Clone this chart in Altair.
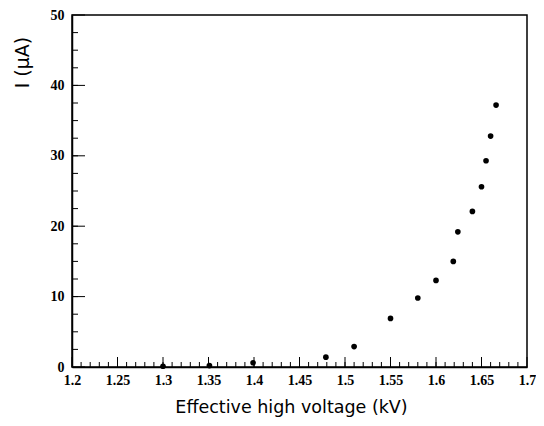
import altair as alt
import pandas as pd

voltage = [1.300, 1.351, 1.399, 1.479, 1.510, 1.550, 1.580, 1.600, 1.619, 1.624,
           1.640, 1.650, 1.655, 1.660, 1.666]
current = [0.1, 0.2, 0.6, 1.4, 2.9, 6.9, 9.8, 12.3, 15.0, 19.2,
           22.1, 25.6, 29.3, 32.8, 37.2]

x_major = [1.2, 1.25, 1.3, 1.35, 1.4, 1.45, 1.5, 1.55, 1.6, 1.65, 1.7]
x_minor = [round(1.2 + 0.01 * i, 2) for i in range(1, 50)]
y_major = [0, 10, 20, 30, 40, 50]
y_minor = [2.5 * i for i in range(1, 20)]

W, H = 455, 352
SERIF = "Liberation Serif"
SANS = "DejaVu Sans"

xs = alt.Scale(domain=[1.2, 1.7], nice=False, zero=False)
ys = alt.Scale(domain=[0, 50], nice=False)

df = pd.DataFrame({"V": voltage, "I": current})

points = alt.Chart(df).mark_circle(color="black", opacity=1, size=32).encode(
    x=alt.X("V:Q", scale=xs, axis=alt.Axis(
        values=x_major, format="~g", ticks=False, grid=False,
        labelFont=SERIF, labelFontWeight="bold", labelFontSize=14, labelColor="black",
        labelPadding=6, labelFlush=False, labelOverlap=False,
        domainColor="black", domainWidth=1.5,
        title="Effective high voltage (kV)", titleFont=SANS, titleFontWeight="normal",
        titleFontSize=17.5, titleColor="black", titleX=219, titleY=40,
        titleBaseline="middle", titleAlign="center")),
    y=alt.Y("I:Q", scale=ys, axis=alt.Axis(
        values=y_major, ticks=False, grid=False,
        labelFont=SERIF, labelFontWeight="bold", labelFontSize=14, labelColor="black",
        labelPadding=8, labelFlush=False, labelOverlap=False,
        domainColor="black", domainWidth=1.5,
        title="I (μA)", titleFont=SANS, titleFontWeight="normal",
        titleFontSize=19, titleColor="black", titleX=-50, titleY=47,
        titleAngle=270, titleBaseline="middle", titleAlign="center")),
)

xminor = alt.Chart(pd.DataFrame({"v": x_minor})).mark_rule(color="black", strokeWidth=1).encode(
    x=alt.X("v:Q", scale=xs), y=alt.value(H), y2=alt.value(H - 5))
xmajor = alt.Chart(pd.DataFrame({"v": x_major})).mark_rule(color="black", strokeWidth=1).encode(
    x=alt.X("v:Q", scale=xs), y=alt.value(H), y2=alt.value(H - 10))
yminor = alt.Chart(pd.DataFrame({"v": y_minor})).mark_rule(color="black", strokeWidth=1).encode(
    y=alt.Y("v:Q", scale=ys), x=alt.value(0), x2=alt.value(6))
ymajor = alt.Chart(pd.DataFrame({"v": y_major})).mark_rule(color="black", strokeWidth=1).encode(
    y=alt.Y("v:Q", scale=ys), x=alt.value(0), x2=alt.value(13))

chart = alt.layer(xminor, xmajor, yminor, ymajor, points).properties(
    width=W, height=H,
    background="white",
    autosize=alt.AutoSizeParams(type="none"),
    padding={"left": 64, "top": 7, "right": 9, "bottom": 51},
).configure_view(stroke="black", strokeWidth=1.5)

chart.save("out.html", embed_options={"renderer": "svg", "actions": False})
